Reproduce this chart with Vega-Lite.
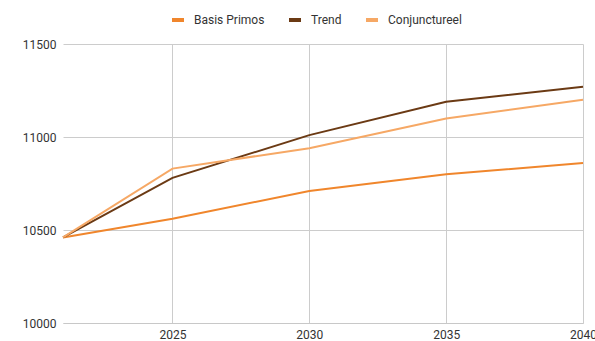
{
  "$schema": "https://vega.github.io/schema/vega-lite/v6.json",
  "width": 520,
  "height": 279,
  "autosize": {"type": "none"},
  "padding": {"left": 63, "top": 44, "right": 12, "bottom": 18},
  "background": "white",
  "config": {
    "font": "Roboto",
    "view": {"stroke": null},
    "axis": {"labelFont": "Roboto", "labelFontSize": 12, "labelColor": "#333333", "ticks": false, "title": null, "gridColor": "#cccccc", "gridWidth": 1}
  },
  "data": {
    "values": [
      {"year": 2021, "series": "Basis Primos", "value": 10460},
      {"year": 2025, "series": "Basis Primos", "value": 10560},
      {"year": 2030, "series": "Basis Primos", "value": 10710},
      {"year": 2035, "series": "Basis Primos", "value": 10800},
      {"year": 2040, "series": "Basis Primos", "value": 10860},
      {"year": 2021, "series": "Trend", "value": 10460},
      {"year": 2025, "series": "Trend", "value": 10780},
      {"year": 2030, "series": "Trend", "value": 11010},
      {"year": 2035, "series": "Trend", "value": 11190},
      {"year": 2040, "series": "Trend", "value": 11270},
      {"year": 2021, "series": "Conjunctureel", "value": 10460},
      {"year": 2025, "series": "Conjunctureel", "value": 10830},
      {"year": 2030, "series": "Conjunctureel", "value": 10940},
      {"year": 2035, "series": "Conjunctureel", "value": 11100},
      {"year": 2040, "series": "Conjunctureel", "value": 11200}
    ]
  },
  "mark": {"type": "line", "strokeWidth": 2, "clip": false},
  "encoding": {
    "x": {
      "field": "year",
      "type": "quantitative",
      "scale": {"domain": [2021, 2040], "nice": false, "zero": false},
      "axis": {"values": [2025, 2030, 2035, 2040], "format": "d", "grid": true, "domain": true, "domainColor": "#c8c8c8", "labelPadding": 6, "labelFlush": false, "labelBound": false, "labelOverlap": false}
    },
    "y": {
      "field": "value",
      "type": "quantitative",
      "scale": {"domain": [10000, 11500], "nice": false, "zero": false},
      "axis": {"values": [10000, 10500, 11000, 11500], "format": "d", "grid": true, "domain": false, "labelPadding": 7}
    },
    "color": {
      "field": "series",
      "type": "nominal",
      "sort": ["Basis Primos", "Trend", "Conjunctureel"],
      "scale": {"domain": ["Basis Primos", "Trend", "Conjunctureel"], "range": ["#f0862c", "#6b3a14", "#f6a865"]},
      "legend": {
        "title": null,
        "orient": "none",
        "direction": "horizontal",
        "legendX": 107,
        "legendY": -32,
        "symbolType": "stroke",
        "symbolSize": 144,
        "symbolStrokeWidth": 4,
        "labelFont": "Roboto",
        "labelFontSize": 12,
        "labelColor": "#333333",
        "labelOffset": 8,
        "columnPadding": 16
      }
    }
  }
}
